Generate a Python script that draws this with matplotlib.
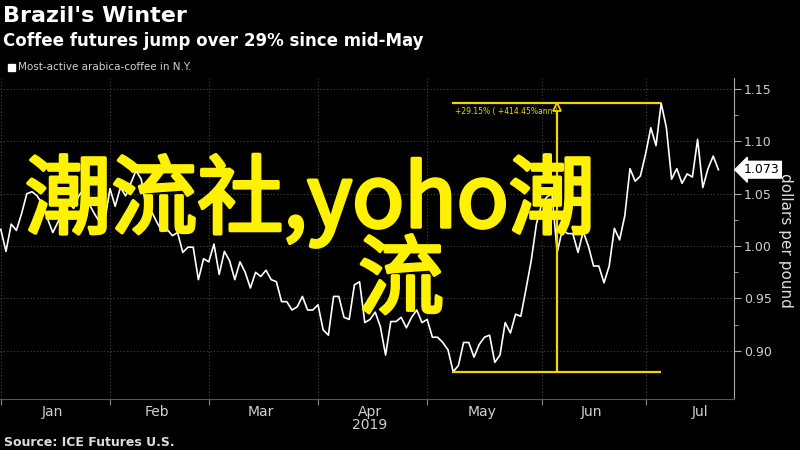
import numpy as np
import matplotlib
matplotlib.use("Agg")
from matplotlib import pyplot as plt
from matplotlib import patheffects
from matplotlib.patches import Rectangle
from matplotlib.transforms import blended_transform_factory

# Precio del arabica (dolares por libra), un valor por sesion de 2019
ene = [1.016, 0.995, 1.021, 1.015, 1.031, 1.050, 1.052, 1.048, 1.040, 1.026, 1.013,
       1.023, 1.034, 1.042, 1.036, 1.048, 1.055, 1.040, 1.031, 1.023, 1.024]
feb = [1.055, 1.038, 1.056, 1.048, 1.060, 1.072, 1.064, 1.036, 1.033, 1.023, 1.014,
       1.016, 1.010, 1.013, 0.994, 0.999, 0.999, 0.968, 0.988]
mar = [0.985, 1.002, 0.973, 0.995, 0.986, 0.968, 0.985, 0.975, 0.960, 0.975, 0.971,
       0.977, 0.968, 0.966, 0.947, 0.947, 0.939, 0.942, 0.952, 0.939, 0.939]
abr = [0.944, 0.920, 0.915, 0.952, 0.952, 0.932, 0.930, 0.963, 0.966, 0.927, 0.930,
       0.937, 0.923, 0.896, 0.928, 0.928, 0.932, 0.922, 0.932, 0.939, 0.927]
may = [0.930, 0.913, 0.913, 0.908, 0.901, 0.880, 0.886, 0.908, 0.908, 0.894, 0.906,
       0.913, 0.915, 0.889, 0.896, 0.927, 0.917, 0.935, 0.933, 0.959, 0.986, 1.021]
jun = [1.040, 1.047, 1.050, 0.994, 1.016, 1.012, 1.012, 0.994, 1.014, 1.000, 0.981,
       0.981, 0.965, 0.981, 1.017, 1.006, 1.029, 1.074, 1.062, 1.067]
jul = [1.088, 1.113, 1.096, 1.1365, 1.113, 1.064, 1.074, 1.060, 1.069, 1.066, 1.102,
       1.056, 1.074, 1.086, 1.073]

meses = ["Jan", "Feb", "Mar", "Apr", "May", "Jun", "Jul"]
sesiones_jul = 22   # sesiones de julio completo (para centrar la etiqueta)
etiqueta_rango = "+29.15% ( +414.45%ann.)"
yticks = [0.90, 0.95, 1.00, 1.05, 1.10, 1.15]

amarillo = "#f2d600"
gris = "#d0d0d0"
angosta = ["Liberation Sans Narrow", "DejaVu Sans"]

listas = [ene, feb, mar, abr, may, jun, jul]
precios = np.array(sum(listas, []))
x = np.arange(len(precios))

# Inicio y centro de cada mes en indices de sesion
largos = [len(m) for m in listas]
inicios = np.concatenate([[0], np.cumsum(largos)[:-1]])
largos[-1] = sesiones_jul
centros = inicios + np.array(largos) / 2 - 0.5

fig = plt.figure(figsize=(8, 4.5), dpi=100, facecolor="black")
ax = fig.add_axes([0.0, 0.1133, 0.9175, 0.7134])
ax.set_facecolor("black")

ax.plot(x, precios, color="white", lw=1.2, zorder=3)
ax.set_xlim(-0.15, 141)
ax.set_ylim(0.854, 1.1606)

# Eje y a la derecha
ax.yaxis.tick_right()
ax.set_yticks(yticks)
ax.set_yticklabels([f"{v:.2f}" for v in yticks])
ax.set_yticks(np.array(yticks[:-1]) + 0.025, minor=True)
ax.tick_params(axis="y", which="both", direction="out", color="#aaaaaa",
               labelcolor=gris, labelsize=9, pad=2)
ax.tick_params(axis="y", which="major", length=5)
ax.tick_params(axis="y", which="minor", length=3)

# Eje x: marcas al inicio de mes, nombres al centro
ax.set_xticks(inicios)
ax.set_xticklabels([])
ax.set_xticks(centros, minor=True)
ax.set_xticklabels(meses, minor=True, family=angosta)
ax.tick_params(axis="x", which="major", length=4, color="#888888", direction="out")
ax.tick_params(axis="x", which="minor", length=0, labelcolor=gris, labelsize=10, pad=4)

ax.grid(True, which="major", color="#444444", linestyle=(0, (1, 2)), lw=0.8)
for lado in ["left", "top"]:
    ax.spines[lado].set_visible(False)
ax.spines["right"].set_color("#aaaaaa")
ax.spines["bottom"].set_color("#555555")

trans = blended_transform_factory(ax.transData, ax.transAxes)
ax.text(centros[3], -0.081, "2019", transform=trans, ha="center", va="center",
        color=gris, fontsize=10, family=angosta)

# Rango minimo-maximo
i_lo = int(np.argmin(precios))
i_hi = int(np.argmax(precios))
lo, hi = precios[i_lo], precios[i_hi]
i_mid = (i_lo + i_hi) / 2
ax.hlines([lo, hi], i_lo - 0.2, i_hi, color=amarillo, lw=1.6, zorder=4)
ax.vlines(i_mid, lo, hi, color=amarillo, lw=1.6, zorder=4)
ax.plot([i_mid], [hi - 0.0035], marker="^", ms=6, mfc="black", mec=amarillo,
        mew=1.3, zorder=5)
ax.annotate(etiqueta_rango, xy=(i_lo, hi), xytext=(1, -2.5), textcoords="offset points",
            ha="left", va="top", color=amarillo, fontsize=5.5, family=angosta, zorder=5)

# Ultimo valor
ax.annotate(f"{precios[-1]:.3f}", xy=(1, precios[-1]), xycoords=("axes fraction", "data"),
            xytext=(7, 0), textcoords="offset points", ha="left", va="center",
            color="black", fontsize=9,
            bbox=dict(boxstyle="larrow,pad=0.15", fc="white", ec="white"))

fig.text(785 / 800, 1 - 240 / 450, "dollars per pound", rotation=270, ha="center",
         va="center", color="#dddddd", fontsize=11)

# Titulos
fig.text(0.004, 1 - 16 / 450, "Brazil's Winter", color="white", fontsize=16,
         weight="bold", va="center")
fig.text(0.004, 1 - 41 / 450, "Coffee futures jump over 29% since mid-May",
         color="white", fontsize=12, weight="bold", va="center")
fig.add_artist(Rectangle((8 / 800, 1 - 71 / 450), 7 / 800, 7 / 450,
                         transform=fig.transFigure, color="white"))
fig.text(18 / 800, 1 - 67 / 450, "Most-active arabica-coffee in N.Y.", color=gris,
         fontsize=7.5, va="center")
fig.text(0.005, 1 - 442 / 450, "Source: ICE Futures U.S.", color="#dddddd",
         fontsize=9, weight="bold", va="center", family=angosta)

# Marca de agua (regular engrosada con un trazo del mismo color)
cjk = ["Noto Sans CJK SC", "DejaVu Sans"]
grueso = [patheffects.withStroke(linewidth=2.5, foreground="#fff200")]
fig.text(25 / 800, 1 - 227 / 450, "潮流社,yoho潮", color="#fff200", fontsize=62,
         family=cjk, va="baseline", ha="left", zorder=10, path_effects=grueso)
fig.text(401 / 800, 1 - 307 / 450, "流", color="#fff200", fontsize=62,
         family=cjk, va="baseline", ha="center", zorder=10, path_effects=grueso)

fig.savefig("out.png", dpi=100, facecolor="black")
